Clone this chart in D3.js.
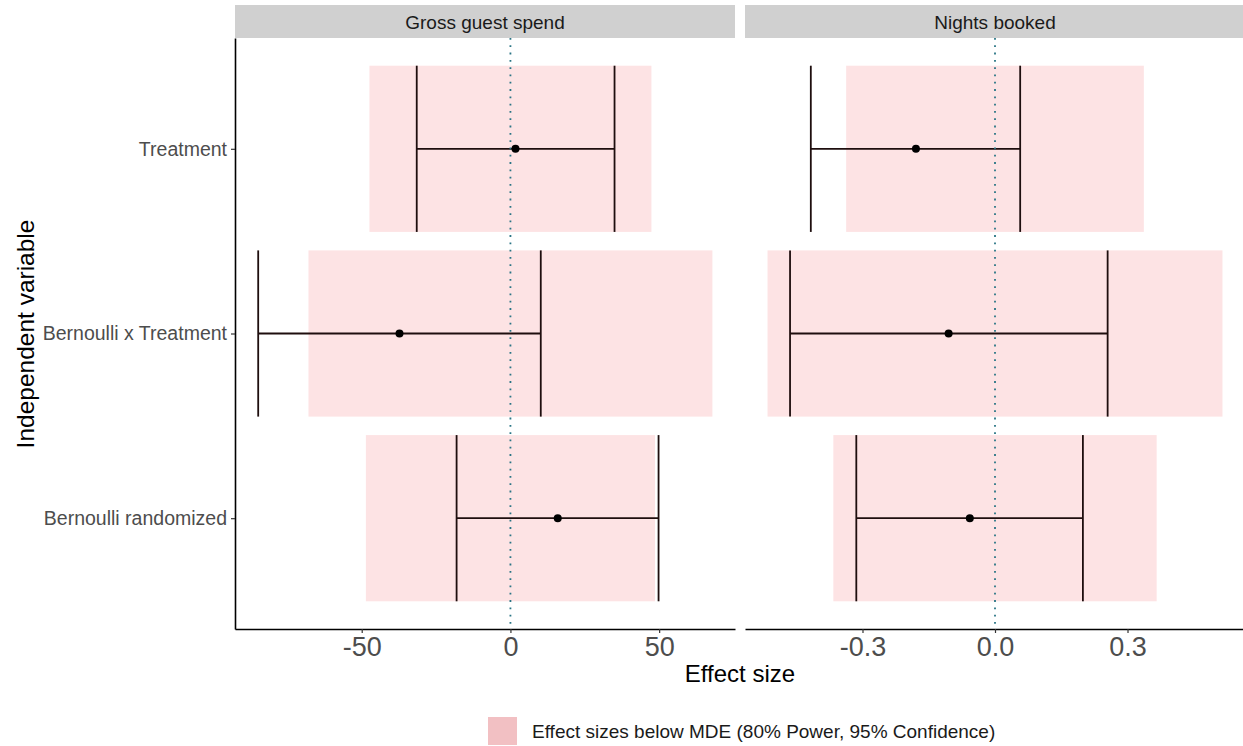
<!DOCTYPE html>
<html><head><meta charset="utf-8">
<script src="https://cdn.jsdelivr.net/npm/d3@7"></script>
<style>body{margin:0;background:#fff}svg{display:block;font-family:"Liberation Sans",Arial,sans-serif}</style>
</head><body><svg id="c" width="1243" height="746"></svg>
<script>
const categories = ["Treatment", "Bernoulli x Treatment", "Bernoulli randomized"];
const panels = ["Gross guest spend", "Nights booked"];
// Gross guest spend
const spendEstimate = [1.7, -37.3, 15.9];
const spendLower = [-31.5, -84.8, -18.1];
const spendUpper = [35.0, 10.2, 49.8];
const spendMDE = [47.4, 67.9, 48.6];
// Nights booked
const nightsEstimate = [-0.179, -0.105, -0.057];
const nightsLower = [-0.417, -0.464, -0.314];
const nightsUpper = [0.057, 0.255, 0.199];
const nightsMDE = [0.337, 0.515, 0.366];
const spendTicks = [-50, 0, 50];
const nightsTicks = [-0.3, 0.0, 0.3];
const legendLabel = "Effect sizes below MDE (80% Power, 95% Confidence)";

const svg = d3.select("#c");
const plotTop = 38, plotBottom = 629;
const y = d3.scalePoint().domain(categories).range([plotTop, plotBottom]).padding(0.6);
const bandH = y.step() * 0.9;
const hy = f => (d => f(d).replace("\u2212", "-"));

const panelDefs = [
  {title: panels[0], x: d3.scaleLinear().domain([-92.6, 75.5]).range([235, 735]),
   est: spendEstimate, lo: spendLower, hi: spendUpper, mde: spendMDE, ticks: spendTicks, fmt: hy(d3.format("d"))},
  {title: panels[1], x: d3.scaleLinear().domain([-0.566, 0.566]).range([745, 1245]),
   est: nightsEstimate, lo: nightsLower, hi: nightsUpper, mde: nightsMDE, ticks: nightsTicks, fmt: hy(d3.format(".1f"))}
];

panelDefs.forEach((p, pi) => {
  const [x0, x1] = p.x.range();
  const g = svg.append("g");
  // strip
  g.append("rect").attr("x", x0).attr("y", 5).attr("width", x1 - x0).attr("height", 33).attr("fill", "#d0d0d0");
  g.append("text").attr("x", (x0 + x1) / 2).attr("y", 28.5)
    .attr("text-anchor", "middle").attr("font-size", 19).attr("fill", "#1a1a1a").text(p.title);
  // MDE rects
  g.selectAll("rect.mde").data(categories).enter().append("rect")
    .attr("x", (d, i) => p.x(-p.mde[i])).attr("width", (d, i) => p.x(p.mde[i]) - p.x(-p.mde[i]))
    .attr("y", d => y(d) - bandH / 2).attr("height", bandH).attr("fill", "#fde3e4");
  // error bars
  const eb = g.selectAll("g.eb").data(categories).enter().append("g")
    .attr("stroke", "#1e0e0e").attr("stroke-width", 1.8);
  eb.append("line").attr("x1", (d, i) => p.x(p.lo[i])).attr("x2", (d, i) => p.x(p.hi[i]))
    .attr("y1", d => y(d)).attr("y2", d => y(d));
  eb.append("line").attr("x1", (d, i) => p.x(p.lo[i])).attr("x2", (d, i) => p.x(p.lo[i]))
    .attr("y1", d => y(d) - bandH / 2).attr("y2", d => y(d) + bandH / 2);
  eb.append("line").attr("x1", (d, i) => p.x(p.hi[i])).attr("x2", (d, i) => p.x(p.hi[i]))
    .attr("y1", d => y(d) - bandH / 2).attr("y2", d => y(d) + bandH / 2);
  // zero line
  g.append("line").attr("x1", p.x(0)).attr("x2", p.x(0)).attr("y1", plotTop).attr("y2", plotBottom)
    .attr("stroke", "#2a7585").attr("stroke-width", 1.8).attr("stroke-dasharray", "1.8,5.5");
  // points
  g.selectAll("circle").data(categories).enter().append("circle")
    .attr("cx", (d, i) => p.x(p.est[i])).attr("cy", d => y(d)).attr("r", 4).attr("fill", "#000");
  // x axis
  const ax = g.append("g").attr("transform", `translate(0,${plotBottom})`)
    .call(d3.axisBottom(p.x).tickValues(p.ticks).tickFormat(p.fmt).tickSize(4).tickPadding(4).tickSizeOuter(0));
  ax.select(".domain").attr("stroke", "#000").attr("stroke-width", 1.6);
  ax.selectAll(".tick line").attr("stroke", "#333").attr("stroke-width", 1.2);
  ax.selectAll(".tick text").attr("font-size", 27).attr("fill", "#4d4d4d").attr("font-family", "Liberation Sans, Arial, sans-serif");
  if (pi === 0) {
    const ay = g.append("g").attr("transform", `translate(${x0},0)`)
      .call(d3.axisLeft(y).tickSize(4).tickPadding(4).tickSizeOuter(0));
    ay.select(".domain").attr("stroke", "#000").attr("stroke-width", 1.6);
    ay.selectAll(".tick line").attr("stroke", "#333").attr("stroke-width", 1.2);
    ay.selectAll(".tick text").attr("font-size", 19.5).attr("fill", "#4d4d4d").attr("font-family", "Liberation Sans, Arial, sans-serif");
  }
});

// axis titles
svg.append("text").attr("x", 740).attr("y", 682).attr("text-anchor", "middle")
  .attr("font-size", 24).attr("fill", "#000").text("Effect size");
svg.append("text").attr("transform", "translate(34,334) rotate(-90)").attr("text-anchor", "middle")
  .attr("font-size", 24.5).attr("fill", "#000").text("Independent variable");

// legend
svg.append("rect").attr("x", 488).attr("y", 717).attr("width", 29).attr("height", 28).attr("fill", "#f2c0c3");
svg.append("text").attr("x", 532).attr("y", 738).attr("font-size", 19).attr("fill", "#1a1a1a").text(legendLabel);
</script></body></html>
